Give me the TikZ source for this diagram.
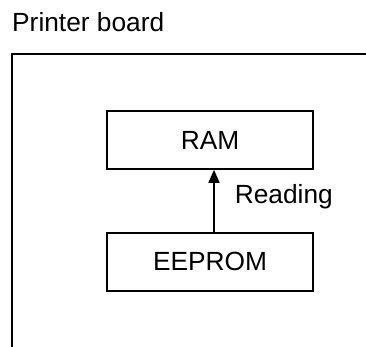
\documentclass[tikz,border=0pt]{standalone}
\usepackage{fontspec}
\setmainfont{Liberation Sans}
\usepackage{tikz}
\usetikzlibrary{arrows.meta,positioning}
\newcommand{\bfont}{\fontsize{26.3}{31}\selectfont}

\begin{document}
\begin{tikzpicture}[x=1pt,y=1pt,
    memory/.style={draw,line width=1.7pt,minimum width=206pt,minimum height=58pt,
      inner sep=0pt,font=\bfont},
    txt/.style={inner sep=0pt,font=\bfont}]
  \useasboundingbox (0,0) rectangle (366,347);
  % board outline
  \coordinate (bl) at (12,0);
  \coordinate (tl) at (12,293);
  \coordinate (tr) at (366,293);
  \draw[line width=2pt] (bl) -- (tl) -- (tr);
  \node[txt,anchor=base west] (title) at (12,315) {Printer board};
  % memories
  \node[memory] (ram) at (210,207) {RAM};
  \node[memory,below=62pt of ram] (eeprom) {EEPROM};
  \draw[-{Triangle[length=13pt,width=11pt]},line width=1.7pt]
    ([xshift=4pt]eeprom.north) -- ([xshift=4pt]ram.south)
    node[txt,pos=0.56,right=20pt] (reading) {Reading};
\end{tikzpicture}
\end{document}
